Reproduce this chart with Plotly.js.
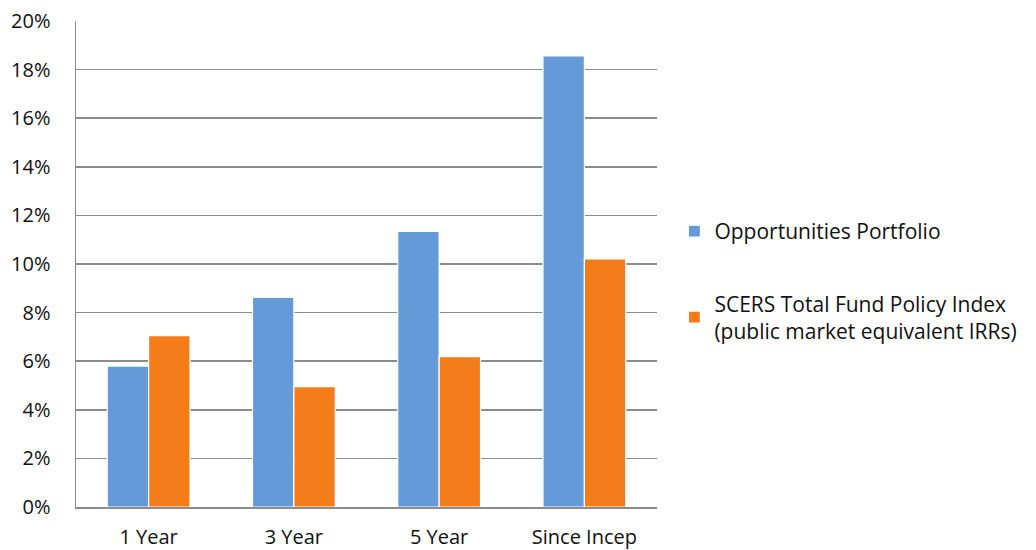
<!DOCTYPE html>
<html><head><meta charset="utf-8">
<script src="https://cdn.plot.ly/plotly-3.0.1.min.js"></script>
<style>html,body{margin:0;padding:0;background:#fff}#chart{width:1036px;height:550px}</style>
</head><body><div id="chart"></div>
<script>
var categories = ["1 Year", "3 Year", "5 Year", "Since Incep"];
var opportunities = [5.8, 8.63, 11.34, 18.56];
var policyIndex = [7.05, 4.95, 6.19, 10.21];
var seriesNames = ["Opportunities Portfolio", "SCERS Total Fund Policy Index<br>(public market equivalent IRRs)"];
var tickVals = [0, 2, 4, 6, 8, 10, 12, 14, 16, 18, 20];
var tickText = tickVals.map(function(v){return v + "%";});

var font = "'Open Sans', sans-serif";
var traces = [
  {type:"bar", x:categories, y:opportunities, name:seriesNames[0], legendgroup:"a",
   marker:{color:"#659AD9", line:{color:"#ffffff", width:1.2}}},
  {type:"bar", x:categories, y:policyIndex, name:seriesNames[1], legendgroup:"b",
   marker:{color:"#F47C1A", line:{color:"#ffffff", width:1.2}}}
];
var layout = {
  width:1036, height:550,
  margin:{l:76, r:379, t:21, b:43, autoexpand:false},
  paper_bgcolor:"#fff", plot_bgcolor:"#fff",
  barmode:"group", bargap:0.43, bargroupgap:0,
  font:{family:font, size:20, color:"#111"},
  xaxis:{type:"category", showline:true, linecolor:"#8c8c8c", linewidth:1.5,
         showgrid:false, ticks:"", ticklabelstandoff:11, tickfont:{size:20, family:font, color:"#111"}},
  yaxis:{range:[0,20], tickvals:tickVals, ticktext:tickText, showgrid:true,
         gridcolor:"#8c8c8c", gridwidth:1.5, showline:true, linecolor:"#8c8c8c", linewidth:1.5,
         zeroline:false, ticks:"", ticklen:0, ticklabelstandoff:20, tickfont:{size:20, family:font, color:"#111"}},
  showlegend:true,
  legend:{x:1.03, xanchor:"left", y:0.465, yanchor:"middle", traceorder:"grouped", tracegroupgap:42,
          itemwidth:30, font:{size:21, family:font, color:"#111"}, bgcolor:"rgba(0,0,0,0)"}
};
Plotly.newPlot("chart", traces, layout, {displayModeBar:false, staticPlot:true});
</script>
</body></html>
